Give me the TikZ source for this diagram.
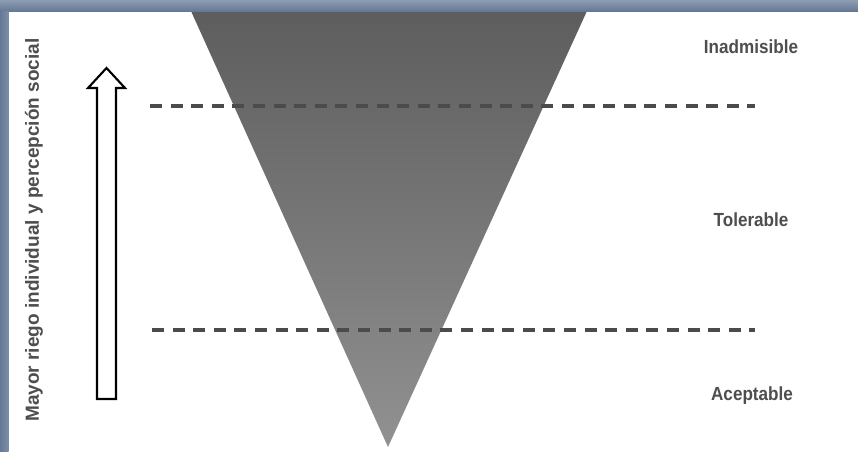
\documentclass[tikz,border=0pt]{standalone}
\usepackage{fontspec}
\setmainfont{Liberation Sans}[BoldFont={Liberation Sans Bold}]
\definecolor{barlight}{RGB}{140,157,180}
\definecolor{bardark}{RGB}{102,121,148}
\definecolor{tritop}{RGB}{92,92,92}
\definecolor{tribot}{RGB}{145,145,145}
\definecolor{dashcol}{RGB}{75,75,75}
\definecolor{txtcol}{RGB}{78,78,78}
\tikzset{
  lvl/.style={draw=dashcol, line width=3.2pt, dash pattern=on 12pt off 8.6pt},
  lbl/.style={text=txtcol, font=\fontsize{19}{22}\selectfont\bfseries, inner sep=0pt},
  arrowshape/.style={draw=black, fill=white, line width=2.1pt, line join=miter}
}
\begin{document}
\begin{tikzpicture}[x=1pt,y=-1pt]
\useasboundingbox (0,0) rectangle (858,451);
\fill[white] (0,0) rectangle (858,451);
% triangle
\shade[top color=tritop, bottom color=tribot, shading angle=0]
  (186,0) -- (592,0) -- (388,447) -- cycle;
% frame bars
\shade[top color=barlight, bottom color=bardark] (0,0) rectangle (858,11);
\shade[left color=bardark, right color=bardark!85!white] (0,11) rectangle (8.5,451);
% dashed level lines
\coordinate (d1a) at (150,106);
\coordinate (d1b) at (755,106);
\coordinate (d2a) at (152,330);
\coordinate (d2b) at (755,330);
\draw[lvl] (d1a) -- (d1b);
\draw[lvl] (d2a) -- (d2b);
% block arrow
\draw[arrowshape] (97,399) -- (116,399) -- (116,88) -- (125,88) -- (106.5,68)
  -- (88,88) -- (97,88) -- cycle;
% labels
\node[lbl, rotate=90] (axis) at (34,230) {Mayor riego individual y percepción social};
\node[lbl] (inad) at (751,47) {\scalebox{0.9}[1]{Inadmisible}};
\node[lbl] (tol) at (751,220) {\scalebox{0.9}[1]{Tolerable}};
\node[lbl] (acep) at (752,396) {\scalebox{0.9}[1]{Aceptable}};
\end{tikzpicture}
\end{document}
